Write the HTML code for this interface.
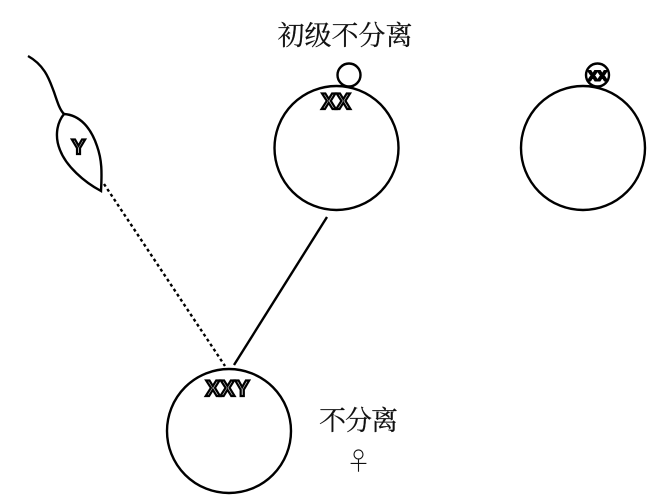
<!DOCTYPE html>
<html>
<head>
<meta charset="utf-8">
<style>
html,body{margin:0;padding:0;background:#fff;}
svg{display:block;}
.cn{font-family:"Liberation Serif","Noto Serif CJK SC",serif;font-size:27px;fill:#111;stroke:#111;stroke-width:.25px;}
.x{font-family:"Liberation Sans",sans-serif;font-weight:bold;fill:#ddd;stroke:#000;stroke-width:2.2px;}
</style>
</head>
<body>
<svg width="660" height="500" viewBox="0 0 660 500" xmlns="http://www.w3.org/2000/svg">
<rect width="660" height="500" fill="#fff"/>
<g fill="none" stroke="#000" stroke-width="2.4">
<circle cx="336.500" cy="148" r="62"/>
<circle cx="349" cy="75" r="11.500"/>
<circle cx="583" cy="148" r="62"/>
<circle cx="597.500" cy="75" r="11.500"/>
<circle cx="229" cy="431" r="62"/>
<path d="M28 56 C46 66 50 82 54 92 C58 104 60 110 64 114"/>
<path d="M64 114 C56 124 55 138 60 150 C66 166 84 182 101 191 C102 172 102 160 97 146 C91 128 80 115 64 114 Z"/>
<line x1="327" y1="217" x2="234" y2="365"/>
<line x1="104" y1="184" x2="225" y2="366" stroke-dasharray="3 3"/>
</g>
<text class="x" x="78.500" y="154" font-size="21" text-anchor="middle">Y</text>
<text class="x" x="336" y="109" font-size="22" text-anchor="middle">XX</text>
<text class="x" x="597.500" y="80.500" font-size="14" text-anchor="middle" textLength="19" lengthAdjust="spacingAndGlyphs" style="stroke-width:2px">XX</text>
<text class="x" x="227.500" y="396" font-size="22" text-anchor="middle">XXY</text>
<text class="cn" x="277.500" y="45" textLength="135" lengthAdjust="spacing">初级不分离</text>
<text class="cn" x="319" y="430" textLength="79" lengthAdjust="spacing">不分离</text>
<text x="358.500" y="470" font-family="Noto Serif CJK SC,serif" font-size="25" text-anchor="middle" fill="#111">♀</text>
</svg>
</body>
</html>
